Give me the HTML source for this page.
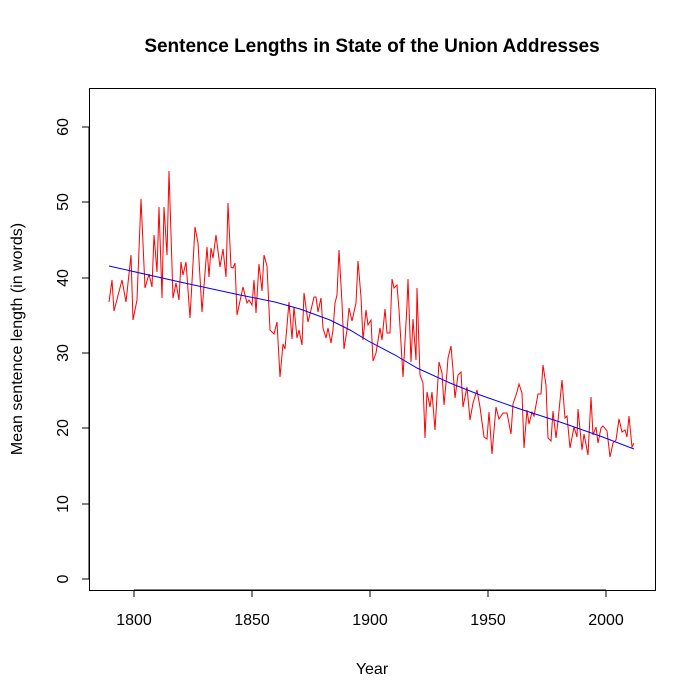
<!DOCTYPE html>
<html><head><meta charset="utf-8"><style>body{margin:0;background:#fff}svg{display:block}text{font-family:"Liberation Sans",sans-serif;fill:#000}</style></head><body>
<svg width="700" height="700" viewBox="0 0 700 700">
<text x="372" y="52" font-size="19" font-weight="bold" text-anchor="middle">Sentence Lengths in State of the Union Addresses</text>
<rect x="89.5" y="88.5" width="566" height="502" fill="none" stroke="#000"/>
<g stroke="#000">
<line x1="134" y1="590" x2="606" y2="590"/>
<line x1="134" y1="590" x2="134" y2="597"/><line x1="252" y1="590" x2="252" y2="597"/><line x1="370" y1="590" x2="370" y2="597"/><line x1="488" y1="590" x2="488" y2="597"/><line x1="606" y1="590" x2="606" y2="597"/>
<line x1="89" y1="127" x2="89" y2="579"/>
<line x1="82" y1="579" x2="89" y2="579"/><line x1="82" y1="504" x2="89" y2="504"/><line x1="82" y1="428" x2="89" y2="428"/><line x1="82" y1="353" x2="89" y2="353"/><line x1="82" y1="278" x2="89" y2="278"/><line x1="82" y1="202" x2="89" y2="202"/><line x1="82" y1="127" x2="89" y2="127"/>
</g>
<g font-size="16" text-anchor="middle">
<text x="134" y="625">1800</text><text x="252" y="625">1850</text><text x="370" y="625">1900</text><text x="488" y="625">1950</text><text x="606" y="625">2000</text>
<text x="372" y="674">Year</text>
</g>
<g font-size="16" text-anchor="middle">
<text transform="translate(68,579) rotate(-90)">0</text>
<text transform="translate(68,504) rotate(-90)">10</text>
<text transform="translate(68,428) rotate(-90)">20</text>
<text transform="translate(68,353) rotate(-90)">30</text>
<text transform="translate(68,278) rotate(-90)">40</text>
<text transform="translate(68,202) rotate(-90)">50</text>
<text transform="translate(68,127) rotate(-90)">60</text>
<text transform="translate(22,339) rotate(-90)">Mean sentence length (in words)</text>
</g>
<polyline fill="none" stroke="#f00" stroke-width="1" points="109,302 112,280 114,311 122,280 126,302 131,255 133,320 137,300 141,199 145,288 149,274 152,287 154,235 157,272 159,207 162,298 164,207 167,255 169,171 173,298 176,283 179,300 181,262 183,275 186,262 190,318 195,227 198,243 202,312 207,247 209,277 211,248 213,258 216,235 220,267 223,249 226,277 228,203 231,267 233,268 235,263 237,315 243,287 247,303 249,300 252,305 254,280 256,313 259,264 262,291 264,255 267,266 270,330 274,334 277,322 280,377 283,344 285,349 289,302 292,339 294,307 297,338 299,330 302,345 304,293 308,322 311,310 314,297 316,297 318,312 321,298 323,328 326,338 328,328 331,343 333,330 335,303 337,295 339,250 342,303 344,349 347,330 349,308 352,321 356,303 358,261 361,297 363,340 366,310 368,325 371,320 373,361 376,353 380,328 382,340 385,309 387,333 390,333 392,279 394,288 397,285 399,310 403,377 407,305 408,279 411,362 413,319 416,360 417,288 420,375 423,383 425,438 427,392 430,407 432,392 435,430 439,362 442,373 444,405 447,372 448,358 451,346 453,370 455,398 458,375 461,372 463,407 467,387 470,420 473,403 477,390 480,407 484,437 487,439 489,412 492,454 496,407 499,419 503,413 507,413 511,434 513,404 517,392 519,384 522,393 524,448 527,410 529,424 532,412 534,416 538,394 541,394 543,365 546,385 548,438 551,441 553,411 556,438 558,421 562,380 565,418 567,416 570,448 574,427 577,437 578,409 582,450 584,434 588,455 591,397 593,435 596,427 598,443 601,428 603,426 607,431 610,457 613,443 616,440 619,419 622,432 625,430 627,437 629,416 632,447 634,443"/>
<polyline fill="none" stroke="#00f" stroke-width="1" points="109,266 180,282 240,295 275,302 300,309 330,320 350,330 370,342 395,355 417,368 450,383 480,395 520,409 560,422 600,436 634,449"/>
</svg>
</body></html>
